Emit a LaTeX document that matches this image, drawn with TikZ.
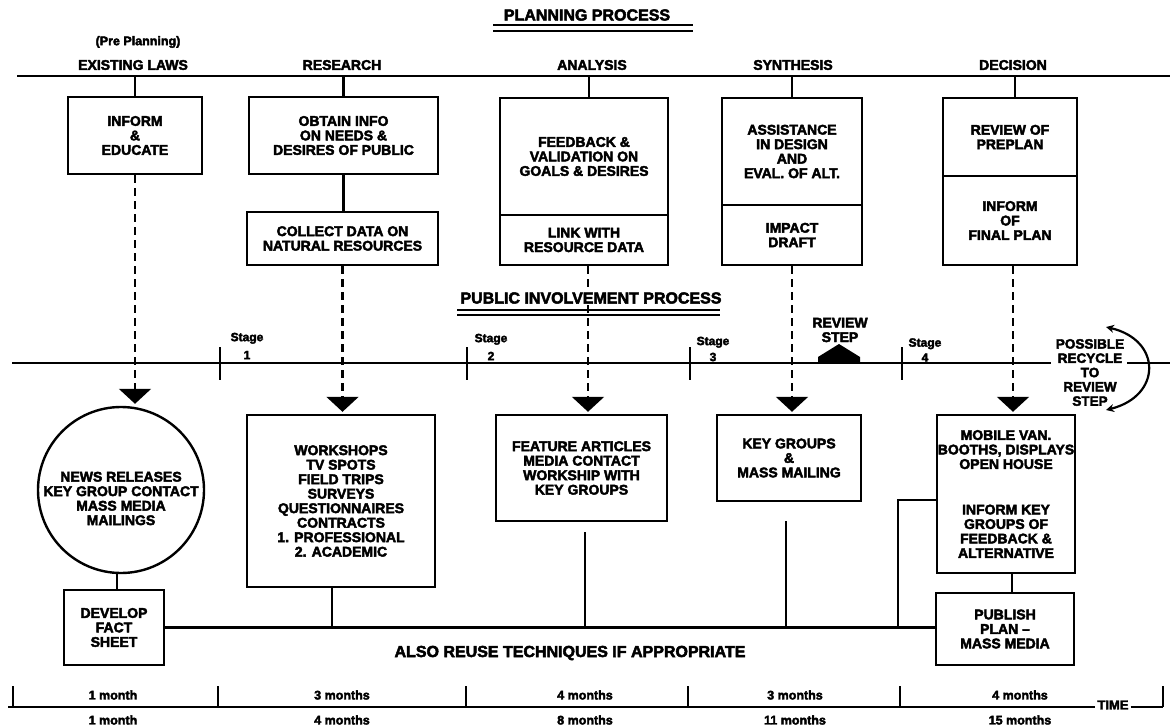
\documentclass[tikz,border=0pt]{standalone}
\usepackage{fontspec}
\setmainfont{Liberation Sans}[BoldFeatures={FakeBold=3}]
\usetikzlibrary{arrows.meta,calc}
\begin{document}
\begin{tikzpicture}[x=1pt,y=-1pt,
  lbl/.style={font=\fontsize{14}{14.5}\selectfont\bfseries, align=center, inner sep=0pt},
  smalltxt/.style={font=\fontsize{12.5}{14}\selectfont\bfseries, align=center, inner sep=0pt},
  ttl/.style={font=\fontsize{16}{18}\selectfont\bfseries, inner sep=1pt},
  pbox/.style={draw, line width=2.4pt, rectangle, align=center, font=\fontsize{14}{14.5}\selectfont\bfseries, inner sep=0pt},
  plink/.style={line width=2.4pt},
  thinlink/.style={line width=2pt},
  dlink/.style={line width=2.2pt, dash pattern=on 8pt off 5pt, -{Triangle[width=32pt,length=15pt]}, shorten >=2pt},
]
\useasboundingbox (0,0) rectangle (1170,728);

% ---------- titles ----------
\node[ttl] (pp) at (587,15) {PLANNING PROCESS};
\draw[line width=1.5pt] (493,25) -- (693,25);
\draw[line width=2pt] (493,31) -- (693,31);

\node[smalltxt] (pre) at (138,42) {(Pre Planning)};
\node[lbl] (hLaws) at (133,65) {EXISTING LAWS};
\node[lbl] (hRes) at (342,65) {RESEARCH};
\node[lbl] (hAna) at (592,65) {ANALYSIS};
\node[lbl] (hSyn) at (793,65) {SYNTHESIS};
\node[lbl] (hDec) at (1013,65) {DECISION};

\coordinate (topL) at (17,76);
\coordinate (topR) at (1170,76);
\draw[plink] (topL) -- (topR);

% ---------- planning boxes ----------
\node[pbox, minimum width=134pt, minimum height=77pt] (inform) at (135,135.5) {INFORM\\\&\\EDUCATE};
\node[pbox, minimum width=189pt, minimum height=77pt] (obtain) at (343.5,135.5) {OBTAIN INFO\\ON NEEDS \&\\DESIRES OF PUBLIC};
\node[pbox, minimum width=191pt, minimum height=53pt] (collect) at (342.5,238.5) {COLLECT DATA ON\\NATURAL RESOURCES};
\node[pbox, minimum width=168pt, minimum height=117pt] (anaA) at (584,156.5) {FEEDBACK \&\\VALIDATION ON\\GOALS \& DESIRES};
\node[pbox, minimum width=168pt, minimum height=50pt] (anaB) at (584,240) {LINK WITH\\RESOURCE DATA};
\node[pbox, minimum width=140pt, minimum height=107pt] (synA) at (792,151.5) {ASSISTANCE\\IN DESIGN\\AND\\EVAL. OF ALT.};
\node[pbox, minimum width=140pt, minimum height=60pt] (synB) at (792,235) {IMPACT\\DRAFT};
\node[pbox, minimum width=134pt, minimum height=78pt] (decA) at (1010,137) {REVIEW OF\\PREPLAN};
\node[pbox, minimum width=134pt, minimum height=89pt] (decB) at (1010,220.5) {INFORM\\OF\\FINAL PLAN};

% stubs from top line
\draw[plink] (inform.north) -- (inform.north |- topL);
\draw[plink] (obtain.north) -- (obtain.north |- topL);
\draw[plink] ([xshift=5pt]anaA.north) -- ([xshift=5pt]anaA.north |- topL);
\draw[plink] (synA.north) -- (synA.north |- topL);
\draw[plink] ([xshift=5pt]decA.north) -- ([xshift=5pt]decA.north |- topL);
\draw[plink] (obtain.south) -- (obtain.south |- collect.north);

% ---------- public involvement boxes ----------
\node[draw, circle, line width=2.4pt, minimum size=166pt, inner sep=0pt,
      label={[lbl, yshift=-8.5pt]center:NEWS RELEASES\\KEY GROUP CONTACT\\MASS MEDIA\\MAILINGS}] (news) at (121,490) {};
\node[pbox, minimum width=100pt, minimum height=75pt] (fact) at (114,627.5) {DEVELOP\\FACT\\SHEET};
\node[pbox, minimum width=188pt, minimum height=172pt] (work) at (341,501) {WORKSHOPS\\TV SPOTS\\FIELD TRIPS\\SURVEYS\\QUESTIONNAIRES\\CONTRACTS\\1. PROFESSIONAL\\2. ACADEMIC};
\node[pbox, minimum width=171pt, minimum height=106pt] (feat) at (581.5,468) {FEATURE ARTICLES\\MEDIA CONTACT\\WORKSHIP WITH\\KEY GROUPS};
\node[pbox, minimum width=144pt, minimum height=86pt] (keyg) at (789,458) {KEY GROUPS\\\&\\MASS MAILING};
\node[pbox, minimum width=138pt, minimum height=158pt] (mobile) at (1006,494) {MOBILE VAN.\\BOOTHS, DISPLAYS\\OPEN HOUSE\\[31pt]INFORM KEY\\GROUPS OF\\FEEDBACK \&\\ALTERNATIVE};
\node[pbox, minimum width=138pt, minimum height=72pt] (publish) at (1005,629) {PUBLISH\\PLAN –\\MASS MEDIA};

% ---------- dashed arrows ----------
\draw[dlink] (inform.south) -- (inform.south |- news.north);
\draw[dlink] (collect.south) -- (collect.south |- work.north);
\draw[dlink] ([xshift=4pt]anaB.south) -- ([xshift=4pt]anaB.south |- feat.north);
\draw[dlink] (synB.south) -- (synB.south |- keyg.north);
\draw[dlink] ([xshift=3pt]decB.south) -- ([xshift=3pt]decB.south |- mobile.north);

% public involvement title (over the dashed line)
\node[ttl, fill=white] (pip) at (591,298) {PUBLIC INVOLVEMENT PROCESS};
\draw[line width=1.5pt] (457,310) -- (720,310);
\draw[line width=2pt] (457,315) -- (720,315);

% ---------- middle line with stages ----------
\coordinate (midL) at (12,363);
\coordinate (midA) at (1051,363);
\coordinate (midB) at (1127,363);
\coordinate (midR) at (1170,363);
\draw[plink] (midL) -- (midA);
\draw[plink] (midB) -- (midR);
\foreach \sx in {220,467,690,902} {\draw[thinlink] (\sx,347) -- (\sx,380);}
\node[font=\fontsize{12}{14}\selectfont\bfseries, align=center, inner sep=0pt] (st1) at (247,346) {Stage\\[4pt]1};
\node[font=\fontsize{12}{14}\selectfont\bfseries, align=center, inner sep=0pt] (st2) at (491,347) {Stage\\[4pt]2};
\node[font=\fontsize{12}{14}\selectfont\bfseries, align=center, inner sep=0pt] (st3) at (713,349) {Stage\\[2pt]3};
\node[font=\fontsize{12}{14}\selectfont\bfseries, align=center, inner sep=0pt] (st4) at (925,350) {Stage\\[1pt]4};

% review step
\node[lbl] (rev) at (840,330) {REVIEW\\STEP};
\fill (818,363) -- (818,357) -- (839,344) -- (860,357) -- (860,363) -- cycle;

% recycle
\node[lbl, font=\fontsize{13.5}{14.3}\selectfont\bfseries] (recyc) at (1090,372.5) {POSSIBLE\\RECYCLE\\TO\\REVIEW\\STEP};
\draw[line width=2.2pt, {Stealth[length=8pt,width=8pt]}-{Stealth[length=8pt,width=8pt]}]
  (1106,327) .. controls (1162,340) and (1162,396) .. (1106,410);

% ---------- lower connectors ----------
\draw[plink] ([xshift=3pt]fact.north) -- ([xshift=3pt]fact.north |- news.south);
\draw[plink] (fact.east) -- (fact.east -| publish.west);
\draw[plink] ([xshift=-9pt]work.south) -- ([xshift=-9pt]work.south |- fact.east);
\draw[plink, shorten <=10pt] ([xshift=3.5pt]feat.south) -- ([xshift=3.5pt]feat.south |- fact.east);
\draw[plink, shorten <=19pt] ([xshift=-3pt]keyg.south) -- ([xshift=-3pt]keyg.south |- fact.east);
\draw[plink] ($(mobile.west)+(0,6)$) -| ($(fact.east -| mobile.west)+(-38,0)$);
\coordinate (mp) at ($(mobile.south)+(6,0)$);
\draw[plink] (mp) -- (mp |- publish.north);

\node[font=\fontsize{16}{18}\selectfont\bfseries, inner sep=0pt] (reuse) at (570,653) {ALSO REUSE TECHNIQUES IF APPROPRIATE};

% ---------- time axis ----------
\node[font=\fontsize{13}{14}\selectfont\bfseries, inner sep=2pt] (timeN) at (1113,705) {TIME};
\draw[plink] (8,707) -- (timeN.west |- 8,707);
\draw[plink] (timeN.east |- 8,707) -- (1163,707);
\foreach \tx in {13,218,466,688,900,1163} {\draw[thinlink] (\tx,686) -- (\tx,707);}
\node[smalltxt] (ta1) at (113,695) {1 month};
\node[smalltxt] (ta2) at (342,695) {3 months};
\node[smalltxt] (ta3) at (585,695) {4 months};
\node[smalltxt] (ta4) at (795,695) {3 months};
\node[smalltxt] (ta5) at (1020,695) {4 months};
\node[smalltxt] (tb1) at (113,720) {1 month};
\node[smalltxt] (tb2) at (342,720) {4 months};
\node[smalltxt] (tb3) at (585,720) {8 months};
\node[smalltxt] (tb4) at (795,720) {11 months};
\node[smalltxt] (tb5) at (1020,720) {15 months};
\end{tikzpicture}
\end{document}
